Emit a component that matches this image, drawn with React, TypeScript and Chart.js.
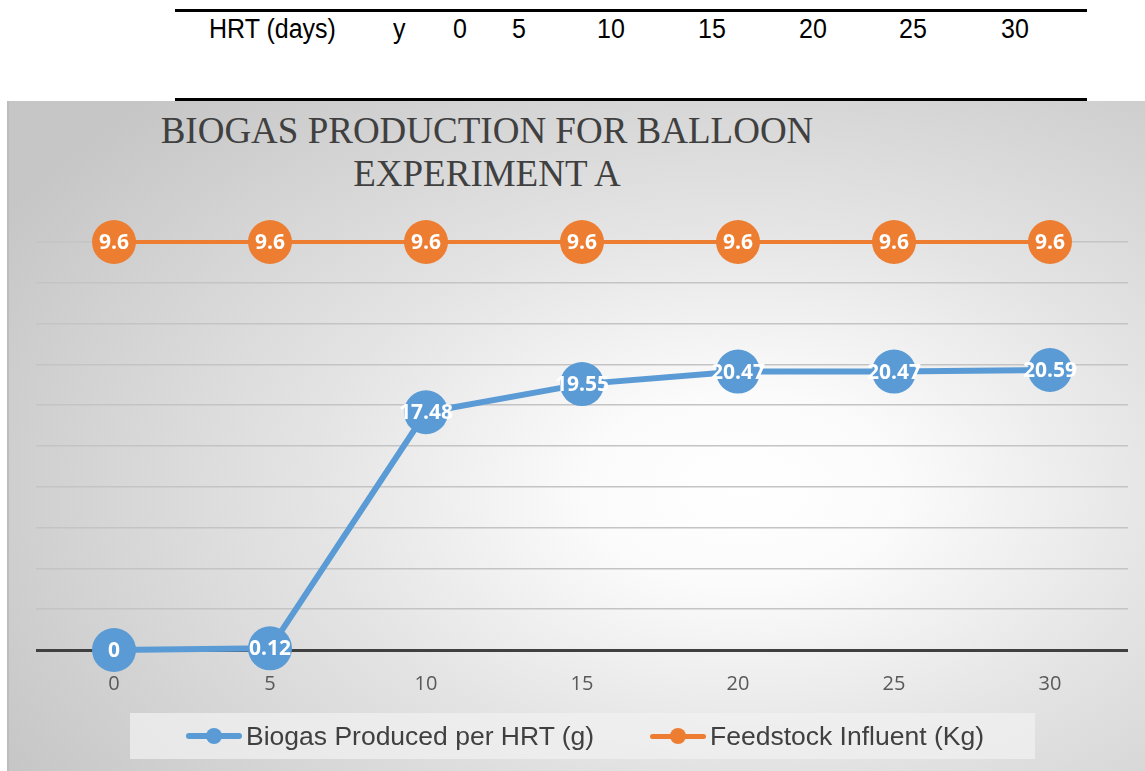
import React, { useEffect, useRef } from "react";
import { Chart, registerables } from "chart.js";

Chart.register(...registerables);

const hrtDays = ["0", "5", "10", "15", "20", "25", "30"];
const tableHeader = ["HRT (days)", "y", "0", "5", "10", "15", "20", "25", "30"];
const tableHeaderX = [209, 393, 453, 512, 597, 698, 799, 899, 1001];
const biogas = [0, 0.12, 17.48, 19.55, 20.47, 20.47, 20.59];
const feedstock = [9.6, 9.6, 9.6, 9.6, 9.6, 9.6, 9.6];
const biogasLabel = "Biogas Produced per HRT (g)";
const feedstockLabel = "Feedstock Influent (Kg)";
const titleLines = ["BIOGAS PRODUCTION FOR BALLOON", "EXPERIMENT A"];

const BLUE = "#5B9BD5";
const ORANGE = "#ED7D31";

const dataLabelPlugin = {
  id: "dataLabels",
  afterDatasetsDraw(chart: any) {
    const ctx = chart.ctx;
    ctx.save();
    ctx.font = "bold 21px 'Open Sans'";
    ctx.fillStyle = "#ffffff";
    ctx.textAlign = "center";
    ctx.textBaseline = "middle";
    chart.data.datasets.forEach((ds: any, i: number) => {
      const meta = chart.getDatasetMeta(i);
      meta.data.forEach((pt: any, j: number) => {
        ctx.fillText(String(ds.data[j]), pt.x, pt.y + 1);
      });
    });
    ctx.restore();
  },
};

export default function App() {
  const canvasRef = useRef<HTMLCanvasElement | null>(null);

  useEffect(() => {
    if (!canvasRef.current) return;
    const chart = new Chart(canvasRef.current, {
      type: "line",
      data: {
        labels: hrtDays,
        datasets: [
          {
            label: biogasLabel,
            data: biogas,
            borderColor: BLUE,
            backgroundColor: BLUE,
            borderWidth: 6,
            pointRadius: 22,
            pointHoverRadius: 22,
            pointBorderWidth: 0,
            pointBackgroundColor: BLUE,
            yAxisID: "y",
            clip: false as any,
            tension: 0,
            order: 2,
          },
          {
            label: feedstockLabel,
            data: feedstock,
            borderColor: ORANGE,
            backgroundColor: ORANGE,
            borderWidth: 4,
            pointRadius: 22,
            pointHoverRadius: 22,
            pointBorderWidth: 0,
            pointBackgroundColor: ORANGE,
            yAxisID: "y2",
            clip: false as any,
            tension: 0,
            order: 1,
          },
        ],
      },
      options: {
        animation: false,
        responsive: false,
        maintainAspectRatio: false,
        events: [],
        layout: { padding: { left: 28, right: 30, top: 140, bottom: 0 } },
        plugins: {
          legend: { display: false },
          title: { display: false },
          tooltip: { enabled: false },
        },
        scales: {
          x: {
            offset: true,
            grid: { display: false },
            border: { display: false },
            ticks: {
              color: "#595959",
              font: { family: "'Open Sans'", size: 20 },
              padding: 14,
            },
            afterFit: (axis: any) => {
              axis.height = 121;
            },
          },
          y: {
            min: 0,
            max: 30,
            position: "left",
            ticks: { display: false, stepSize: 3 },
            border: { display: false },
            grid: {
              drawTicks: false,
              color: (c: any) => (c.tick && c.tick.value === 0 ? "#404040" : "#c4c4c4"),
              lineWidth: (c: any) => (c.tick && c.tick.value === 0 ? 3 : 1.5),
            },
            afterFit: (axis: any) => {
              axis.width = 0;
            },
          },
          y2: {
            min: 0,
            max: 9.6,
            display: false,
          },
        },
      },
      plugins: [dataLabelPlugin],
    });
    return () => chart.destroy();
  }, []);

  return (
    <div
      style={{
        position: "absolute",
        left: 0,
        top: 0,
        width: 1145,
        height: 771,
        background: "#ffffff",
        overflow: "hidden",
        fontFamily: "'Liberation Sans', Arial, sans-serif",
      }}
    >
      <div style={{ position: "absolute", left: 175, top: 9, width: 912, height: 3, background: "#000" }} />
      {tableHeader.map((t, i) => (
        <div
          key={i}
          style={{
            position: "absolute",
            left: tableHeaderX[i],
            top: 13,
            fontSize: 25,
            lineHeight: "30px",
            color: "#000",
            whiteSpace: "nowrap",
            transform: "scaleY(1.08)",
            transformOrigin: "left center",
          }}
        >
          {t}
        </div>
      ))}
      <div
        style={{
          position: "absolute",
          left: 7,
          top: 101,
          width: 1145,
          height: 670,
          borderLeft: "2px solid #bdbdbd",
          background:
            "radial-gradient(ellipse 75% 80% at 64% 58%, #ffffff 0%, #fbfbfb 18%, #e4e4e4 50%, #c6c6c6 100%)",
        }}
      />
      <div style={{ position: "absolute", left: 175, top: 98, width: 912, height: 3, background: "#000" }} />
      <div
        style={{
          position: "absolute",
          left: 87,
          top: 109,
          width: 800,
          textAlign: "center",
          fontFamily: "'Liberation Serif', 'Times New Roman', serif",
          fontSize: 37,
          lineHeight: "43px",
          color: "#404040",
        }}
      >
        {titleLines.map((l, i) => (
          <div key={i}>{l}</div>
        ))}
      </div>
      <canvas
        ref={canvasRef}
        width={1150}
        height={669}
        style={{ position: "absolute", left: 8, top: 102, width: 1150, height: 669 }}
      />
      <div
        style={{
          position: "absolute",
          left: 130,
          top: 713,
          width: 905,
          height: 46,
          background: "rgba(240,240,240,0.75)",
        }}
      />
      {[
        { label: biogasLabel, color: BLUE, x: 186, w: 6 },
        { label: feedstockLabel, color: ORANGE, x: 650, w: 5 },
      ].map((item, i) => (
        <div
          key={i}
          style={{
            position: "absolute",
            left: item.x,
            top: 720,
            height: 32,
            display: "flex",
            alignItems: "center",
            whiteSpace: "nowrap",
          }}
        >
          <div style={{ position: "relative", width: 56, height: 32, marginRight: 4 }}>
            <div
              style={{
                position: "absolute",
                left: 0,
                top: 16 - item.w / 2,
                width: 56,
                height: item.w,
                borderRadius: item.w / 2,
                background: item.color,
              }}
            />
            <div
              style={{
                position: "absolute",
                left: 20,
                top: 8,
                width: 16,
                height: 16,
                borderRadius: 8,
                background: item.color,
              }}
            />
          </div>
          <span style={{ fontSize: 26.5, color: "#404040" }}>{item.label}</span>
        </div>
      ))}
    </div>
  );
}
